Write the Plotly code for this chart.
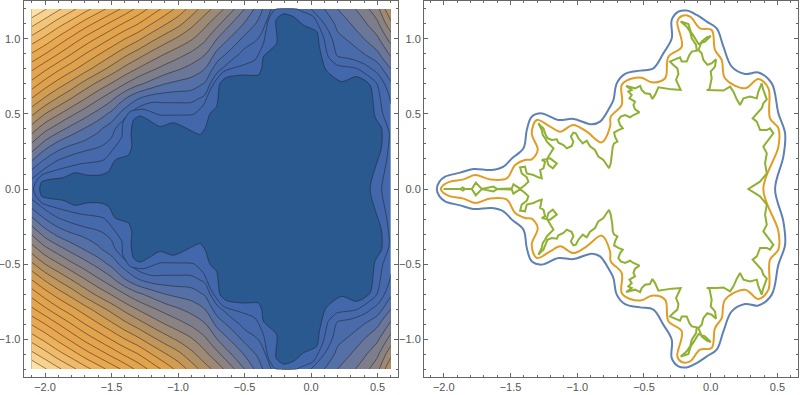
import plotly.graph_objects as go

x_grid = [round(-2.1 + 0.1 * i, 1) for i in range(28)]
y_upper = [round(0.1 * i, 1) for i in range(13)]
# Contour level at each lattice point, y = 0 .. 1.2
z_upper = [
 [.9,-.5,-1,-1,-1,-1,-1,-1,-1,-1,-1,-1,-1,-1,-1,-1,-1,-1,-1,-1,-1,-1,-1,-1,-1,-.3,.6,1.4],
 [2.5,1.4,.6,.1,-.1,-.2,-.3,-1,-1,-1,-1,-1,-1,-1,-1,-1,-1,-1,-1,-1,-1,-1,-1,-1,-1,-.1,.7,1.5],
 [4.2,3,2.1,1.6,1.2,1,.7,0,-1,-1,-1,-1,-1,-1,-1,-1,-1,-1,-1,-1,-1,-1,-1,-1,-1,-.5,.6,1.5],
 [5.9,4.6,3.7,3.1,2.7,2.3,1.7,.5,-.5,-1,-1,-1,-1,-1,-1,-1,-1,-1,-1,-1,-1,-1,-1,-1,-1,-.6,.4,1.5],
 [7.5,6.3,5.4,4.6,3.9,3.2,2.4,1,-.3,-1,-.3,-.3,0,0,-.5,-1,-1,-1,-1,-1,-1,-1,-1,-1,-1,-.5,.2,1.6],
 [9.2,8,7.1,6.2,5.4,4.6,3.7,2.4,1.2,.7,1.1,1.1,1,.6,-.5,-1,-1,-1,-1,-1,-1,-1,-1,-1,-1,-.4,.7,1.8],
 [10.9,9.8,8.8,7.9,7,6.1,5.2,4,3,2.4,2.3,2.3,2.3,1.7,.1,-1,-1,-1,-1,-1,-1,-1,-1,-1,-1,-.4,.6,2.1],
 [12.6,11.5,10.5,9.6,8.6,7.7,6.9,6,5.2,4.6,4,3.7,3.5,2.9,.7,-.6,-.6,-.6,-1,-1,-1,-1,-1,-1,-.5,-.2,1.1,2.8],
 [14.2,13.2,12.2,11.3,10.4,9.5,8.6,7.7,6.9,6.2,5.6,5.1,4.6,4,2.3,1.2,.5,.5,-.7,-1,-1,-.7,-.1,.9,1,1.5,2.4,4],
 [15.9,15,14,13,12,11.1,10.2,9.3,8.5,7.7,7,6.4,5.8,5.1,3.6,2.6,1.6,1.3,.2,-.8,-.8,-.5,.5,2.2,2.5,3,3.8,5.2],
 [17.6,16.7,15.7,14.7,13.7,12.8,11.9,11,10.2,9.3,8.5,7.8,7.1,6.2,4.9,3.8,2.7,2,.8,-.5,-.5,-.3,1,2.7,3.2,4,4.8,6.4],
 [19.3,18.4,17.4,16.5,15.5,14.6,13.7,12.8,12,11,10.1,9.3,8.3,7.3,6.2,5,3.9,2.8,1.4,-.3,.1,.8,2,3.3,4,4.8,5.8,7.7],
 [21,20.1,19.2,18.3,17.4,16.5,15.6,14.7,13.7,12.7,11.7,10.7,9.6,8.5,7.5,6.3,5,3.6,2,.7,1,2,3,4,4.7,5.6,6.7,9],
]

# Upper half of the innermost contours of the left panel
inner_x = [-2.04,-2.025,-1.962,-1.862,-1.774,-1.686,-1.586,-1.523,-1.473,-1.373,-1.348,-1.353,-1.335,-1.285,-1.223,-1.135,-1.035,-.935,-.834,-.797,-.759,-.71,-.684,-.634,-.509,-.396,-.371,-.358,-.258,-.263,-.208,-.133,-.058,.043,.063,.113,.23,.343,.444,.481,.531,.531,.444]
inner_y = [0,.049,.064,.076,.109,.093,.093,.116,.193,.227,.282,.371,.46,.487,.46,.416,.442,.404,.364,.404,.504,.549,.704,.744,.76,.76,.804,.882,.971,1.127,1.167,1.149,1.093,1.049,.949,.793,.716,.749,.693,.482,.404,.282,0]
second_x = [-2.087,-2.075,-2.025,-1.912,-1.736,-1.561,-1.473,-1.423,-1.416,-1.361,-1.26,-1.135,-1.01,-.884,-.809,-.759,-.722,-.659,-.509,-.421,-.358,-.321,-.28,-.26,-.105,-.085,.018,.093,.13,.193,.343,.494,.539,.589,.569,.531]
second_y = [0,.038,.093,.127,.167,.193,.282,.349,.438,.516,.531,.493,.493,.498,.56,.66,.716,.782,.827,.86,.971,1.127,1.19,1.2,1.2,1.19,1.149,1.016,.882,.827,.804,.704,.504,.371,.193,0]

# Upper half of the three curves of the right panel
blue_x = [-2.052,-2.032,-1.99,-1.877,-1.778,-1.64,-1.553,-1.49,-1.403,-1.378,-1.341,-1.266,-1.141,-1.029,-.891,-.829,-.754,-.729,-.704,-.642,-.529,-.43,-.355,-.292,-.292,-.242,-.18,-.105,-.03,.045,.095,.157,.257,.357,.457,.507,.557,.544,.482]
blue_y = [0,.049,.082,.109,.133,.127,.149,.204,.271,.393,.482,.504,.46,.467,.431,.449,.549,.593,.704,.767,.789,.804,.904,1.004,1.127,1.182,1.189,1.16,1.116,1.071,.949,.816,.767,.776,.704,.504,.371,.216,0]
orange_x = [-2.022,-2.002,-1.952,-1.852,-1.765,-1.653,-1.528,-1.465,-1.39,-1.341,-1.296,-1.341,-1.303,-1.203,-1.128,-1.029,-.929,-.816,-.754,-.749,-.667,-.667,-.604,-.517,-.442,-.342,-.317,-.217,-.25,-.217,-.155,-.08,.007,.032,.082,.107,.257,.357,.432,.444,.507,.507,.394]
orange_y = [0,.027,.049,.064,.093,.064,.071,.16,.193,.198,.26,.371,.46,.416,.382,.427,.382,.311,.416,.482,.56,.693,.733,.742,.711,.738,.882,.949,1.116,1.153,1.149,1.071,1.06,.927,.86,.738,.671,.733,.671,.471,.404,.282,0]
green_x = [-2.002,-1.877,-1.857,-1.84,-1.79,-1.76,-1.715,-1.665,-1.628,-1.598,-1.49,-1.478,-1.453,-1.428,-1.391,-1.366,-1.378,-1.416,-1.428,-1.391,-1.378,-1.328,-1.291,-1.266,-1.278,-1.253,-1.241,-1.266,-1.203,-1.153,-1.183,-1.216,-1.228,-1.178,-1.203,-1.228,-1.241,-1.258,-1.266,-1.291,-1.273,-1.253,-1.241,-1.223,-1.191,-1.153,-1.141,-1.103,-1.078,-1.041,-1.029,-1.048,-1.029,-1.011,-.991,-.959,-.929,-.904,-.867,-.842,-.804,-.779,-.762,-.749,-.737,-.734,-.724,-.699,-.717,-.724,-.692,-.659,-.679,-.692,-.674,-.642,-.604,-.579,-.534,-.567,-.579,-.567,-.609,-.592,-.617,-.592,-.634,-.592,-.567,-.529,-.517,-.492,-.455,-.437,-.417,-.392,-.355,-.292,-.225,-.242,-.26,-.242,-.25,-.28,-.305,-.267,-.23,-.217,-.18,-.16,-.142,-.105,-.11,-.142,-.155,-.18,-.225,-.167,-.15,-.117,-.092,-.043,0,-.03,-.068,-.092,-.068,-.055,-.025,.007,.04,.032,0,.007,-.01,-.03,.045,.095,.145,.17,.195,.22,.245,.295,.345,.357,.382,.394,.42,.394,.382,.345,.314,.345,.37,.42,.444,.469,.432,.394,.42,.407,.42,.369,.282]
green_y = [0,0,.011,0,0,.042,0,.007,.016,0,.004,.031,.016,.002,.027,.049,.078,.104,.144,.149,.104,.093,.078,.071,.127,.138,.182,.193,.204,.171,.138,.16,.198,.271,.293,.316,.338,.36,.393,.438,.42,.404,.371,.338,.327,.331,.309,.293,.271,.287,.316,.349,.376,.371,.338,.304,.322,.285,.26,.216,.193,.16,.138,.171,.238,.282,.304,.316,.349,.376,.393,.404,.427,.46,.482,.493,.478,.493,.511,.531,.56,.582,.604,.627,.649,.66,.687,.678,.671,.687,.66,.638,.633,.6,.627,.678,.671,.664,.66,.693,.727,.767,.804,.827,.849,.864,.878,.849,.849,.893,.916,.922,.96,1.004,1.049,1.082,1.116,1.1,1.049,1.004,.967,.982,1.02,1.011,.982,.927,.904,.86,.827,.838,.864,.816,.782,.738,.664,.66,.66,.656,.682,.649,.598,.56,.604,.616,.604,.649,.704,.66,.598,.571,.538,.504,.471,.449,.393,.393,.404,.371,.327,.282,.238,.171,.104,.049,0]

def closed(xs, ys):
    return xs + xs[-2:0:-1] + [xs[0]], ys + [-v for v in ys[-2:0:-1]] + [ys[0]]

z_full = z_upper[:0:-1] + z_upper
y_full = [-v for v in y_upper[:0:-1]] + y_upper

scale = [[0, "#4569ab"], [.08, "#5570a6"], [.16, "#767b90"], [.25, "#8f8480"], [.36, "#b5925f"],
         [.48, "#dea14c"], [.7, "#e8a64c"], [.85, "#f3c070"], [1, "#ffe9b0"]]
line_c = "rgba(30,30,40,0.65)"
frame = "#666666"

fig = go.Figure()
fig.add_trace(go.Contour(x=x_grid, y=y_full, z=z_full, zmin=1, zmax=21, colorscale=scale,
    showscale=False, hoverinfo="skip",
    contours=dict(start=2, end=21, size=1, coloring="fill"),
    line=dict(color=line_c, width=.8, smoothing=1)))
px, py = closed(second_x, second_y)
fig.add_trace(go.Scatter(x=px, y=py, mode="lines", fill="toself", fillcolor="#4267aa",
    line=dict(color=line_c, width=.8, shape="spline", smoothing=.6), hoverinfo="skip"))
px, py = closed(inner_x, inner_y)
fig.add_trace(go.Scatter(x=px, y=py, mode="lines", fill="toself", fillcolor="#29598f",
    line=dict(color=line_c, width=.8, shape="spline", smoothing=.7), hoverinfo="skip"))
for xs, ys, c, sh in [(blue_x, blue_y, "#5e81b5", "spline"), (orange_x, orange_y, "#e19c24", "spline"),
                      (green_x, green_y, "#8fb131", "linear")]:
    px, py = closed(xs, ys)
    fig.add_trace(go.Scatter(x=px, y=py, mode="lines", xaxis="x2", yaxis="y2", hoverinfo="skip",
        line=dict(color=c, width=2, shape=sh)))

ax = dict(showgrid=False, zeroline=False, showline=True, linecolor=frame, linewidth=1,
          mirror="allticks", ticks="inside", ticklen=4, tickcolor=frame, tick0=0, dtick=.5,
          tickformat=".1f", tickfont=dict(family="Liberation Sans", size=11, color="#555555"),
          minor=dict(dtick=.1, ticks="inside", ticklen=2, tickcolor=frame))
yrange = [-1.253, 1.253]
ydom = [1 - 377 / 395, 1 - 1 / 395]
fig.update_layout(width=800, height=395, margin=dict(l=0, r=0, t=0, b=0), showlegend=False,
    plot_bgcolor="white", paper_bgcolor="white",
    xaxis=dict(ax, domain=[23.5 / 800, 398 / 800], range=[-2.162, .654]),
    yaxis=dict(ax, domain=ydom, range=yrange),
    xaxis2=dict(ax, domain=[424 / 800, 797.5 / 800], range=[-2.148, .65], anchor="y2"),
    yaxis2=dict(ax, domain=ydom, range=yrange, anchor="x2"))
fig.write_html("out.html", config=dict(displayModeBar=False),
               post_script="document.body.style.margin='0';document.body.style.overflow='hidden';")
